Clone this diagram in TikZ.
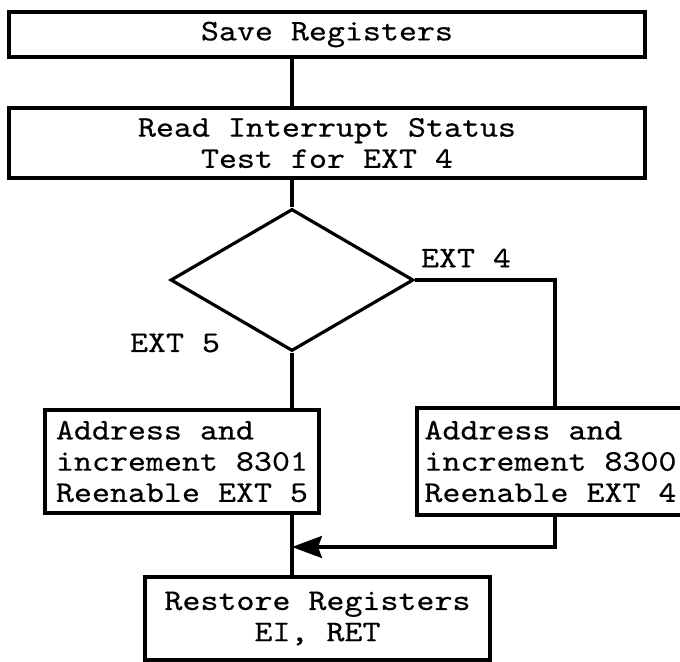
\documentclass[tikz,border=0pt]{standalone}
\usepackage{fontspec}
\setmonofont{lmmono10-regular}[Extension=.otf,FakeStretch=1.143,FakeBold=0.4]
\usetikzlibrary{positioning,arrows.meta,shapes.geometric}

\begin{document}
\begin{tikzpicture}[x=0.5pt,y=-0.5pt,line width=1.6pt,
      every node/.style={font=\ttfamily\fontsize{15}{15.6}\selectfont},
      stepbox/.style={draw,rectangle,inner sep=0pt,align=center},
      listbox/.style={draw,rectangle,inner sep=0pt,align=left},
      test/.style={draw,diamond,inner sep=0pt,aspect=1.71,
        minimum width=121.5pt,minimum height=71pt}]
    \useasboundingbox (0,0) rectangle (680,662);
    \clip (0,0) rectangle (680,662);
    % process boxes
    \node[stepbox,minimum width=318pt,minimum height=22.5pt] (save) at (327,34.5) {Save Registers};
    \node[stepbox,minimum width=318pt,minimum height=35pt] (read) at (327,143) {Read Interrupt Status\\Test for EXT 4};
    \node[test] (dec) at (292,280) {};
    \node[listbox,minimum width=137pt,minimum height=51.5pt] (ext5) at (182,461.5)
      {Address and\\increment 8301\\Reenable EXT 5};
    \node[listbox,minimum width=133.5pt,minimum height=53.5pt] (ext4) at (550.5,461.5)
      {Address and\\increment 8300\\Reenable EXT 4};
    \node[stepbox,minimum width=172.5pt,minimum height=41.5pt] (rest) at (317.5,618.5) {Restore Registers\\EI, RET};
    % branch labels
    \node (lbl4) at (466,258) {EXT 4};
    \node (lbl5) at (175,343) {EXT 5};
    \coordinate (rline) at (555,547);
    % flow lines
    \draw (save.south -| dec) -- (read.north -| dec);
    \draw (read.south -| dec) -- (dec.north);
    \draw (dec.south) -- (ext5.north -| dec);
    \draw (ext5.south -| dec) -- (rest.north -| dec);
    \draw (dec.east) -- (dec.east -| rline) -- (ext4.north -| rline);
    \draw[-{Stealth[length=15pt,width=11pt,inset=2pt]}] (ext4.south -| rline) -- (rline) -- (rline -| dec);
  \end{tikzpicture}
\end{document}
